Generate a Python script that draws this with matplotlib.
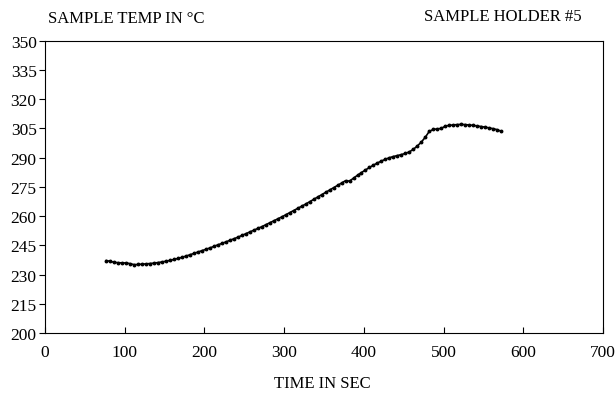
import matplotlib
matplotlib.use("Agg")
import matplotlib.pyplot as plt
import numpy as np

# time (s) and sample temperature (deg C)
time_s = np.arange(77, 573, 5)
temp_c = [237.2, 236.8, 236.3, 236.1, 236.0, 236.0, 235.6, 235.1, 235.2, 235.4,
          235.5, 235.7, 235.9, 236.2, 236.5, 236.9, 237.3, 237.8, 238.3, 238.9,
          239.5, 240.2, 240.9, 241.6, 242.3, 243.0, 243.7, 244.5, 245.3, 246.0,
          246.8, 247.6, 248.4, 249.2, 250.1, 251.0, 251.9, 252.8, 253.7, 254.6,
          255.6, 256.6, 257.6, 258.6, 259.6, 260.7, 261.8, 262.9, 264.0, 265.1,
          266.2, 267.4, 268.6, 269.8, 271.0, 272.2, 273.4, 274.6, 275.8, 277.0,
          278.2, 278.0, 279.5, 281.0, 282.4, 283.7, 285.0, 286.2, 287.3, 288.3,
          289.2, 290.0, 290.6, 291.1, 291.6, 292.2, 293.0, 294.3, 296.0, 298.0,
          300.5, 303.5, 304.5, 304.8, 305.0, 306.2, 306.6, 306.8, 307.0, 307.1,
          307.0, 306.8, 306.6, 306.3, 306.0, 305.7, 305.3, 304.9, 304.4, 303.6]

x_ticks = [0, 100, 200, 300, 400, 500, 600, 700]
y_ticks = [200, 215, 230, 245, 260, 275, 290, 305, 320, 335, 350]

plt.rcParams['font.family'] = ['Liberation Serif', 'DejaVu Serif']

fig = plt.figure(figsize=(6.16, 4.02), dpi=100)
ax = fig.add_axes([0.073, 0.169, 0.906, 0.727])

ax.plot(time_s, temp_c, color='black', lw=1.2, marker='o', ms=1.8)

ax.set_xlim(0, 700)
ax.set_ylim(200, 350)
ax.set_xticks(x_ticks)
ax.set_yticks(y_ticks)
ax.tick_params(axis='x', direction='in', length=4, labelsize=12.5, pad=8)
ax.tick_params(axis='y', direction='out', length=4, labelsize=12.5, pad=2)
for s in ax.spines.values():
    s.set_linewidth(0.8)

fig.text(0.078, 0.953, 'SAMPLE TEMP IN °C', fontsize=12, va='center', ha='left')
fig.text(0.945, 0.958, 'SAMPLE HOLDER #5', fontsize=12, va='center', ha='right')
fig.text(0.523, 0.045, 'TIME IN SEC', fontsize=12, va='center', ha='center')

fig.savefig('out.png', dpi=100)
